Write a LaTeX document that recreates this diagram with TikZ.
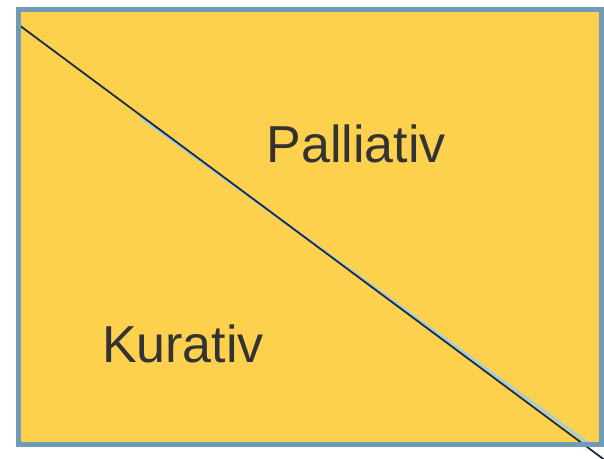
\documentclass[tikz,border=0pt]{standalone}
\usepackage{fontspec}
\setmainfont{Liberation Sans}
\usepackage{xcolor}
\usepackage{tikz}
\definecolor{gelb}{HTML}{FDD14E}
\definecolor{rahmen}{HTML}{6F9BB6}
\definecolor{navy}{HTML}{1E2B42}
\definecolor{hellblau}{HTML}{9CCFEA}
\definecolor{textgrau}{HTML}{333333}

\begin{document}
\begin{tikzpicture}[x=1pt,y=-1pt,font=\fontsize{52}{60}\selectfont,
  label/.style={textgrau,anchor=base,inner sep=0pt}]
  \useasboundingbox (0,0) rectangle (604,458);
  \fill[gelb] (18.5,9.5) rectangle (601.5,444.5);
  \draw[hellblau,line width=2.5pt] (140,117)--(588,443);
  \draw[navy,line width=1.8pt] (19,25)--(606,461);
  \draw[rahmen,line width=5pt] (18.5,9.5) rectangle (601.5,444.5);
  \node[label] (pall) at (356,162) {Palliativ};
  \node[label] (kur) at (183,362) {Kurativ};
\end{tikzpicture}
\end{document}
